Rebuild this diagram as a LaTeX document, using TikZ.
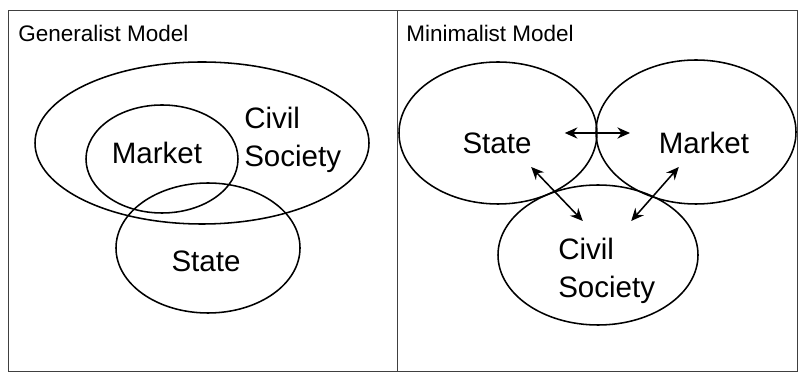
\documentclass[tikz,border=0pt]{standalone}
\usepackage{fontspec}
\setmainfont{Liberation Sans}
\usetikzlibrary{shapes.geometric,arrows.meta}

\begin{document}
\begin{tikzpicture}[
    blob/.style={draw, ellipse, line width=1.1pt, inner sep=0pt},
    lbl/.style={font=\fontsize{21}{27}\selectfont, inner sep=0pt},
    ttl/.style={font=\fontsize{16}{19}\selectfont, anchor=base west, inner sep=0pt},
    link/.style={line width=1.1pt, {Stealth[length=9pt,width=8pt,inset=3pt]}-{Stealth[length=9pt,width=8pt,inset=3pt]}}
]
    \useasboundingbox (0,0) rectangle (19.975,9.325);
    % frame and divider
    \draw[line width=0.6pt, black!75] (0.2,0.05) rectangle (19.925,9.075);
    \draw[line width=0.6pt, black!75] (9.925,0.05) -- (9.925,9.075);

    % generalist model
    \node[ttl] (gtitle) at (0.45,8.275) {Generalist Model};
    \node[blob, minimum width=8.35cm, minimum height=4.05cm] (gcivil) at (5.05,5.75) {};
    \node[blob, minimum width=3.8cm, minimum height=2.7cm] (gmarket) at (4.05,5.35) {};
    \node[blob, minimum width=4.6cm, minimum height=3.25cm] (gstate) at (5.2,3.125) {};
    \node[lbl] (gmarkettxt) at (3.925,5.5) {Market};
    \node[lbl] (gstatetxt) at (5.15,2.8) {State};
    \node[lbl, anchor=west, align=left] (gciviltxt) at (6.1,5.825) {Civil\\Society};

    % minimalist model
    \node[ttl] (mtitle) at (10.15,8.275) {Minimalist Model};
    \node[blob, minimum width=4.95cm, minimum height=3.55cm] (mstate) at (12.45,6.0) {};
    \node[blob, minimum width=5.0cm, minimum height=3.6cm] (mmarket) at (17.4,6.025) {};
    \node[blob, minimum width=5.0cm, minimum height=3.5cm] (mcivil) at (14.95,2.95) {};
    \node[lbl] (mstatetxt) at (12.425,5.75) {State};
    \node[lbl] (mmarkettxt) at (17.6,5.75) {Market};
    \node[lbl, anchor=west, align=left] (mciviltxt) at (13.95,2.55) {Civil\\Society};

    % arrow ends
    \coordinate (sm1) at (14.12,6.0);
    \coordinate (sm2) at (15.75,6.0);
    \coordinate (sc1) at (13.28,5.15);
    \coordinate (sc2) at (14.57,3.8);
    \coordinate (mc1) at (16.97,5.15);
    \coordinate (mc2) at (15.78,3.8);
    \draw[link] (sm1) -- (sm2);
    \draw[link] (sc1) -- (sc2);
    \draw[link] (mc1) -- (mc2);
\end{tikzpicture}
\end{document}
